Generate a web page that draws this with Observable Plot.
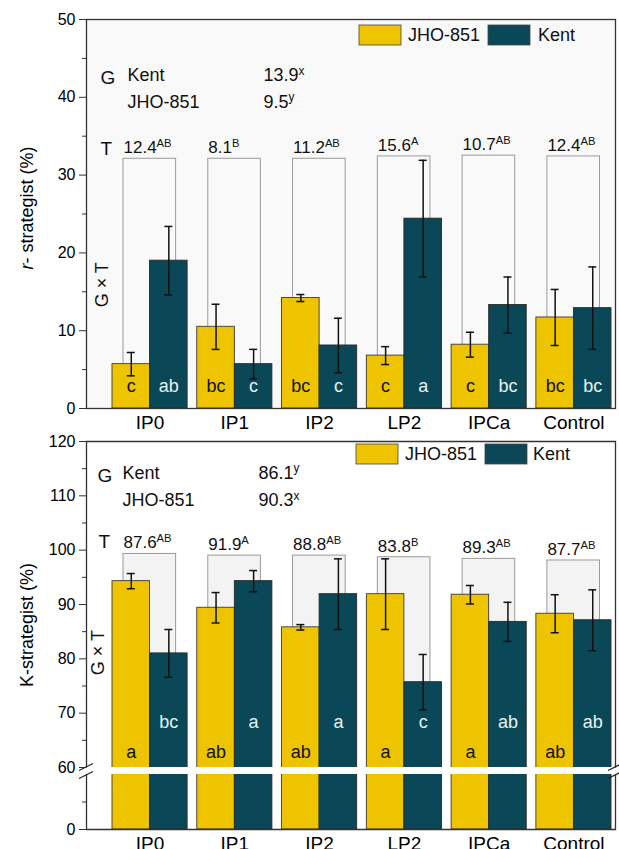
<!DOCTYPE html>
<html><head><meta charset="utf-8">
<script src="https://cdn.jsdelivr.net/npm/d3@7"></script>
<script src="https://cdn.jsdelivr.net/npm/@observablehq/plot@0.6"></script>
<style>
html,body{margin:0;padding:0;background:#fff;}
body{overflow:hidden;width:619px;height:849px;position:relative;font-family:"Liberation Sans",Arial,sans-serif;}
.panel{position:absolute;left:0;}
#deco{position:absolute;left:0;top:0;pointer-events:none;}
</style></head><body>
<div id="rA" class="panel" style="top:0px"></div>
<div id="kU" class="panel" style="top:430px"></div>
<div id="kL" class="panel" style="top:774px"></div>
<svg id="deco" width="619" height="849"></svg>
<script>
// ---------- data ----------
const categories = ["IP0", "IP1", "IP2", "LP2", "IPCa", "Control"];
const cultivars = ["JHO-851", "Kent"];

// r-strategist (%)
const rMeanJHO = [5.7, 10.5, 14.2, 6.8, 8.2, 11.7];
const rErrJHO  = [1.5, 2.9, 0.45, 1.15, 1.6, 3.6];
const rMeanKent = [19.0, 5.7, 8.1, 24.4, 13.3, 12.9];
const rErrKent  = [4.4, 1.9, 3.5, 7.5, 3.6, 5.3];
const rLetterJHO = ["c", "bc", "bc", "c", "c", "bc"];
const rLetterKent = ["ab", "c", "c", "a", "bc", "bc"];
const rTMean = ["12.4", "8.1", "11.2", "15.6", "10.7", "12.4"];
const rTSig = ["AB", "B", "AB", "A", "AB", "AB"];
const rBoxTop = [32.1, 32.1, 32.1, 32.4, 32.5, 32.4];
const gNames = ["Kent", "JHO-851"];
const rGMean = ["13.9", "9.5"];
const rGSig = ["x", "y"];

// K-strategist (%)
const kMeanJHO = [94.3, 89.4, 85.8, 91.9, 91.8, 88.3];
const kErrJHO  = [1.4, 2.8, 0.5, 6.5, 1.7, 3.5];
const kMeanKent = [81.0, 94.3, 91.9, 75.7, 86.8, 87.1];
const kErrKent  = [4.4, 1.95, 6.5, 5.1, 3.6, 5.6];
const kLetterJHO = ["a", "ab", "ab", "a", "a", "ab"];
const kLetterKent = ["bc", "a", "a", "c", "ab", "ab"];
const kTMean = ["87.6", "91.9", "88.8", "83.8", "89.3", "87.7"];
const kTSig = ["AB", "A", "AB", "B", "AB", "AB"];
const kBoxTop = [99.3, 99.0, 99.0, 98.7, 98.4, 98.1];
const kGMean = ["86.1", "90.3"];
const kGSig = ["y", "x"];

const rTicks = [0, 10, 20, 30, 40, 50];
const rMinor = [5, 15, 25, 35, 45];
const kTicksUpper = [60, 70, 80, 90, 100, 110, 120];
const kMinorUpper = [65, 75, 85, 95, 105, 115];
const kTicksLower = [0];
const kMinorLower = [30];

// ---------- styles ----------
const colJ = "#EEC400", colK = "#0B4857";
const FONT = "'Liberation Sans', Arial, Helvetica, sans-serif";
const W = 619, ML = 86, MR = 4;
const PAD = 0.114;
const xRange = [112, 611];
const step = (xRange[1] - xRange[0]) / (categories.length - PAD);
const bw = step * (1 - PAD);
const half = bw / 2, q = bw / 4;
const xOpts = {domain: categories, range: xRange, paddingInner: PAD, paddingOuter: 0, round: false};
const style = {fontFamily: FONT, fontSize: "16px", color: "#000", background: "transparent", overflow: "visible"};

const rows = (means, errs, letters, cult) => categories.map((c, i) => ({
  cat: c, cult, v: means[i], lo: means[i] - errs[i], hi: means[i] + errs[i], letter: letters[i]
}));
const tRows = (tops, means, sigs) => categories.map((c, i) => ({cat: c, top: tops[i], label: means[i] + "^" + sigs[i]}));
const gRows = (means, sigs) => gNames.map((n, i) => ({name: n, label: means[i] + "^" + sigs[i]}));

function barMarks(jho, kent, yJ, yK, clip) {
  return [
    Plot.barY(jho, {x: "cat", y: "v", fill: colJ, stroke: "#3a3a3a", strokeWidth: 0.9, insetRight: half, clip}),
    Plot.barY(kent, {x: "cat", y: "v", fill: colK, stroke: "#2a2a2a", strokeWidth: 0.9, insetLeft: half, clip}),
    Plot.ruleX(jho, {x: "cat", y1: "lo", y2: "hi", dx: -q, stroke: "#111", strokeWidth: 1.5, clip}),
    Plot.ruleX(kent, {x: "cat", y1: "lo", y2: "hi", dx: q, stroke: "#111", strokeWidth: 1.5, clip}),
    Plot.tickY(jho, {x: "cat", y: "hi", dx: -q, insetLeft: half - 4, insetRight: half - 4, stroke: "#111", strokeWidth: 1.5}),
    Plot.tickY(jho, {x: "cat", y: "lo", dx: -q, insetLeft: half - 4, insetRight: half - 4, stroke: "#111", strokeWidth: 1.5}),
    Plot.tickY(kent, {x: "cat", y: "hi", dx: q, insetLeft: half - 4, insetRight: half - 4, stroke: "#111", strokeWidth: 1.5}),
    Plot.tickY(kent, {x: "cat", y: "lo", dx: q, insetLeft: half - 4, insetRight: half - 4, stroke: "#111", strokeWidth: 1.5}),
    ...(yJ == null ? [] : [
      Plot.text(jho, {x: "cat", y: yJ, dx: -q, text: "letter", fontSize: 18, fill: "#111"}),
      Plot.text(kent, {x: "cat", y: yK, dx: q, text: "letter", fontSize: 18, fill: "#e6f2f2"})
    ])
  ];
}

function supers(svg) {
  d3.select(svg).selectAll("text").each(function () {
    if (this.children.length) return;
    const t = this.textContent;
    if (!t.includes("^")) return;
    const [a, b] = t.split("^");
    const s = d3.select(this);
    s.text(null);
    s.append("tspan").text(a);
    s.append("tspan").attr("font-size", "0.66em").attr("dy", "-0.55em").text(b);
  });
}
function yTitle(svg, x, y, parts) {
  const t = d3.select(svg).append("text")
    .attr("transform", `translate(${x},${y}) rotate(-90)`)
    .attr("text-anchor", "middle").attr("font-size", 18).attr("fill", "#000").attr("font-family", FONT);
  parts.forEach(([s, it]) => t.append("tspan").attr("font-style", it ? "italic" : "normal").text(s));
}
function legend(svg, y, xs) {
  const g = d3.select(svg).append("g").attr("font-family", FONT).attr("font-size", 18).attr("text-anchor", "start");
  cultivars.forEach((c, i) => {
    const [rx, tx] = xs[i];
    g.append("rect").attr("x", rx).attr("y", y).attr("width", 42).attr("height", 20)
      .attr("fill", i === 0 ? colJ : colK).attr("stroke", "#444").attr("stroke-width", 0.8);
    g.append("text").attr("x", tx).attr("y", y + 10).attr("dy", "0.35em").attr("text-anchor", "start").attr("fill", "#111").text(c);
  });
}

// ---------- r-strategist panel ----------
const rJ = rows(rMeanJHO, rErrJHO, rLetterJHO, cultivars[0]);
const rK = rows(rMeanKent, rErrKent, rLetterKent, cultivars[1]);
const rT = tRows(rBoxTop, rTMean, rTSig);
const rG = gRows(rGMean, rGSig);
const rH = 433, rTop = 19, rBot = 25;
const rPlot = Plot.plot({
  width: W, height: rH, marginLeft: ML, marginRight: MR, marginTop: rTop, marginBottom: rBot, style,
  x: xOpts,
  y: {domain: [0, 50]},
  marks: [
    Plot.frame({fill: "#f9f9f9", stroke: "none"}),
    Plot.barY(rT, {x: "cat", y1: 0, y2: "top", insetLeft: 11, insetRight: 11.5, fill: "none", stroke: "#9a9a9a", strokeWidth: 1}),
    ...barMarks(rJ, rK, 2.8, 2.8, false),
    Plot.text(rT, {x: "cat", y: "top", dx: -half + 11, dy: -11, textAnchor: "start", text: "label", fontSize: 17, fill: "#111"}),
    Plot.text(["G"], {frameAnchor: "left", dx: 14, y: 42.5, text: d => d, fontSize: 19, fill: "#111"}),
    Plot.text(["T"], {frameAnchor: "left", dx: 14, y: 33.4, text: d => d, fontSize: 19, fill: "#111"}),
    Plot.text(["G × T"], {frameAnchor: "left", dx: 16, y: 13, text: d => d, rotate: -90, fontSize: 18, fill: "#111"}),
    Plot.text(rG, {frameAnchor: "left", dx: 41, y: (d, i) => [42.8, 39.4][i], text: "name", textAnchor: "start", fontSize: 18, fill: "#111"}),
    Plot.text(rG, {frameAnchor: "left", dx: 177, y: (d, i) => [42.8, 39.4][i], text: "label", textAnchor: "start", fontSize: 18, fill: "#111"}),
    Plot.axisY({ticks: rTicks, tickSize: 7, tickPadding: 4, fontSize: 16, label: null, stroke: "#333"}),
    Plot.axisY({ticks: rMinor, tickSize: 4, tickFormat: () => "", label: null, stroke: "#333"}),
    Plot.axisX({tickSize: 0, tickPadding: 7, fontSize: 19, label: null}),
    Plot.frame({stroke: "#333", strokeWidth: 1.3})
  ]
});
supers(rPlot);
yTitle(rPlot, 33, 208, [["r", true], ["- strategist (%)", false]]);
legend(rPlot, 25, [[359, 408], [488, 538]]);
document.getElementById("rA").appendChild(rPlot);

// ---------- K-strategist panel (upper part, 60–120) ----------
const kJ = rows(kMeanJHO, kErrJHO, kLetterJHO, cultivars[0]);
const kK = rows(kMeanKent, kErrKent, kLetterKent, cultivars[1]);
const kT = tRows(kBoxTop, kTMean, kTSig);
const kG = gRows(kGMean, kGSig);
const uTop = 11, uBot = 6, uH = 343;
const uW = W - ML - MR, uInner = uH - uTop - uBot;
const kUpper = Plot.plot({
  width: W, height: uH, marginLeft: ML, marginRight: MR, marginTop: uTop, marginBottom: uBot, style,
  x: {...xOpts, axis: null},
  y: {domain: [60, 120]},
  marks: [
    Plot.barY(kT, {x: "cat", y1: 0, y2: "top", insetLeft: 11, insetRight: 11.5, fill: "#f3f3f3", stroke: "#9a9a9a", strokeWidth: 1, clip: true}),
    ...barMarks(kJ, kK, 62.8, 68.4, true),
    Plot.text(kT, {x: "cat", y: "top", dx: -half + 11, dy: -11, textAnchor: "start", text: "label", fontSize: 17, fill: "#111"}),
    Plot.text(["G"], {frameAnchor: "left", dx: 11, y: 113.7, text: d => d, fontSize: 19, fill: "#111"}),
    Plot.text(["T"], {frameAnchor: "left", dx: 12, y: 101.5, text: d => d, fontSize: 19, fill: "#111"}),
    Plot.text(["G × T"], {frameAnchor: "left", dx: 12, y: 77, text: d => d, rotate: -90, fontSize: 18, fill: "#111"}),
    Plot.text(kG, {frameAnchor: "left", dx: 36, y: (d, i) => [114.2, 109.1][i], text: "name", textAnchor: "start", fontSize: 18, fill: "#111"}),
    Plot.text(kG, {frameAnchor: "left", dx: 172, y: (d, i) => [114.2, 109.1][i], text: "label", textAnchor: "start", fontSize: 18, fill: "#111"}),
    Plot.axisY({ticks: kTicksUpper, tickSize: 7, tickPadding: 4, fontSize: 16, label: null, stroke: "#333"}),
    Plot.axisY({ticks: kMinorUpper, tickSize: 4, tickFormat: () => "", label: null, stroke: "#333"}),
    Plot.frame({stroke: "#333", strokeWidth: 1.3, strokeDasharray: `${uW + uInner},${uW},${uInner + 2}`})
  ]
});
supers(kUpper);
yTitle(kUpper, 33, 195, [["K-strategist (%)", false]]);
legend(kUpper, 14, [[356, 405], [485, 533]]);
document.getElementById("kU").appendChild(kUpper);

// ---------- K-strategist panel (lower part, 0–60) ----------
const lTop = 0, lBot = 25, lH = 80;
const lInner = lH - lTop - lBot;
const kLower = Plot.plot({
  width: W, height: lH, marginLeft: ML, marginRight: MR, marginTop: lTop, marginBottom: lBot, style,
  x: xOpts,
  y: {domain: [0, 60]},
  marks: [
    Plot.barY(kJ, {x: "cat", y: "v", fill: colJ, stroke: "#3a3a3a", strokeWidth: 0.9, insetRight: half, clip: true}),
    Plot.barY(kK, {x: "cat", y: "v", fill: colK, stroke: "#2a2a2a", strokeWidth: 0.9, insetLeft: half, clip: true}),
    Plot.axisY({ticks: kTicksLower, tickSize: 7, tickPadding: 4, fontSize: 16, label: null, stroke: "#333"}),
    Plot.axisY({ticks: kMinorLower, tickSize: 4, tickFormat: () => "", label: null, stroke: "#333"}),
    Plot.axisX({tickSize: 0, tickPadding: 7, fontSize: 19, label: null}),
    Plot.frame({stroke: "#333", strokeWidth: 1.3, strokeDasharray: `0,${uW},${2 * lInner + uW + 2}`})
  ]
});
document.getElementById("kL").appendChild(kLower);

// ---------- axis break marks ----------
const deco = d3.select("#deco");
[ML, W - MR].forEach(x => {
  [767, 775].forEach(y => {
    deco.append("line").attr("x1", x - 7).attr("y1", y + 3.5).attr("x2", x + 7).attr("y2", y - 3.5)
      .attr("stroke", "#222").attr("stroke-width", 1.2);
  });
});
</script>
</body></html>
